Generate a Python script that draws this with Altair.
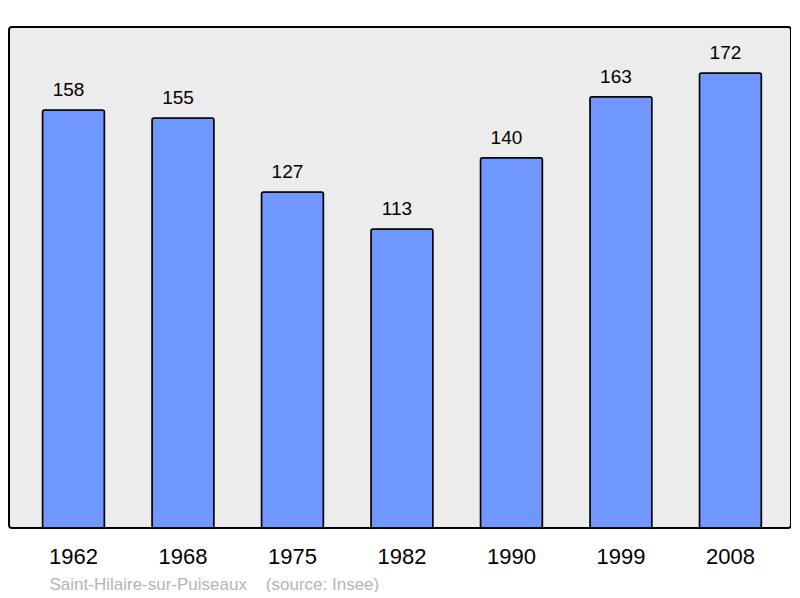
import altair as alt
import pandas as pd

years = ["1962", "1968", "1975", "1982", "1990", "1999", "2008"]
population = [158, 155, 127, 113, 140, 163, 172]
source_text = "Saint-Hilaire-sur-Puiseaux\u00a0\u00a0\u00a0\u00a0(source: Insee)"

df = pd.DataFrame({"year": years, "pop": population})

x = alt.X(
    "year:N",
    sort=years,
    scale=alt.Scale(paddingInner=0.434, paddingOuter=0.288, align=0.531),
    axis=alt.Axis(
        title=source_text,
        labelAngle=0,
        labelFontSize=22,
        labelFont="Liberation Sans",
        labelColor="#000000",
        labelPadding=18,
        ticks=False,
        tickSize=0,
        domain=False,
        titleFont="Liberation Sans",
        titleFontSize=17,
        titleFontWeight="normal",
        titleColor="#b4b4b4",
        titleAnchor="start",
        titleAlign="left",
        titleBaseline="alphabetic",
        titleX=40,
        titleY=61,
    ),
)
y = alt.Y("pop:Q", scale=alt.Scale(domain=[0, 189.4], nice=False, zero=True), axis=None)

bars = alt.Chart(df).mark_bar(
    color="#7097ff", stroke="#000000", strokeWidth=1.5, cornerRadius=2
).encode(x=x, y=y)

labels = alt.Chart(df).mark_text(
    font="Liberation Sans", fontSize=19, color="#000000", baseline="alphabetic", dy=-14, dx=-5
).encode(x=x, y=y, text="pop:Q")

chart = (
    (bars + labels)
    .properties(
        width=782,
        height=501,
        padding={"left": 1, "top": 19, "right": 0, "bottom": 0},
        background="#ffffff",
    )
    .configure_view(stroke="#000000", strokeWidth=2, fill="#ececec", cornerRadius=3)
)

chart.save("out.html", embed_options={"renderer": "svg", "actions": False})
